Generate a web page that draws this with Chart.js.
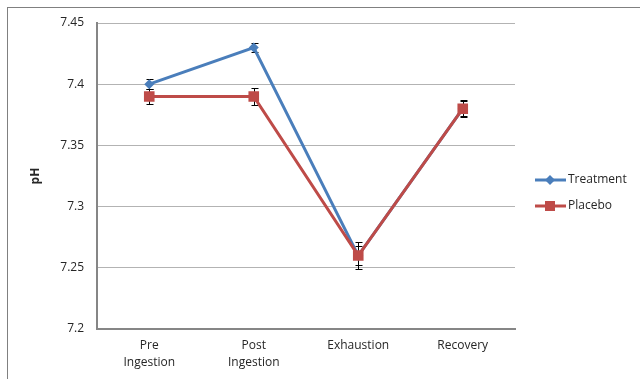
<!DOCTYPE html>
<html><head><meta charset="utf-8">
<script src="https://cdn.jsdelivr.net/npm/chart.js@4/dist/chart.umd.min.js"></script>
<style>html,body{margin:0;padding:0;background:#fff;}#wrap{width:640px;height:379px;position:relative;}</style>
</head><body><div id="wrap"><canvas id="c" width="640" height="379"></canvas></div>
<script>
const categories = [['Pre','Ingestion'], ['Post','Ingestion'], ['Exhaustion'], ['Recovery']];
const treatment = [7.40, 7.43, 7.26, 7.38];
const treatmentErr = [0.004, 0.004, 0.008, 0.006];
const placebo = [7.39, 7.39, 7.26, 7.38];
const placeboErr = [0.006, 0.007, 0.011, 0.007];
const yTicks = [7.2, 7.25, 7.3, 7.35, 7.4, 7.45];
const seriesNames = ['Treatment', 'Placebo'];

const FONT = "'Open Sans', sans-serif";
const BLUE = '#4a7ebb', RED = '#be4b48';
const TXT = '#262626';

const errPlugin = {
  id: 'errbars',
  beforeDatasetsDraw(chart) {
    const ctx = chart.ctx, ys = chart.scales.y;
    const errs = [treatmentErr, placeboErr];
    ctx.save();
    ctx.strokeStyle = '#000'; ctx.lineWidth = 1;
    chart.data.datasets.forEach((ds, di) => {
      const meta = chart.getDatasetMeta(di);
      meta.data.forEach((pt, i) => {
        const v = ds.data[i], e = errs[di][i];
        const y1 = Math.round(ys.getPixelForValue(v + e)) + 0.5;
        const y2 = Math.round(ys.getPixelForValue(v - e)) + 0.5;
        const x = Math.round(pt.x) + 0.5;
        ctx.beginPath();
        ctx.moveTo(x, y1); ctx.lineTo(x, y2);
        ctx.moveTo(x - 3, y1); ctx.lineTo(x + 4, y1);
        ctx.moveTo(x - 3, y2); ctx.lineTo(x + 4, y2);
        ctx.stroke();
      });
    });
    ctx.restore();
  },
  afterDraw(chart) {
    const ctx = chart.ctx;
    ctx.save();
    ctx.strokeStyle = '#808080'; ctx.lineWidth = 1;
    ctx.strokeRect(7.5, 7.5, 700, 400);
    const items = [
      {name: seriesNames[0], color: BLUE, y: 180, style: 'diamond'},
      {name: seriesNames[1], color: RED, y: 206, style: 'square'}
    ];
    ctx.font = '12px ' + FONT;
    ctx.textBaseline = 'middle';
    items.forEach(it => {
      ctx.strokeStyle = it.color; ctx.lineWidth = 3;
      ctx.beginPath(); ctx.moveTo(535, it.y); ctx.lineTo(566, it.y); ctx.stroke();
      ctx.fillStyle = it.color;
      ctx.beginPath();
      if (it.style === 'diamond') {
        ctx.moveTo(550, it.y - 5); ctx.lineTo(555, it.y); ctx.lineTo(550, it.y + 5); ctx.lineTo(545, it.y); ctx.closePath();
      } else {
        ctx.rect(545, it.y - 5, 10, 10);
      }
      ctx.fill();
      ctx.fillStyle = TXT;
      ctx.fillText(it.name, 568, it.y);
    });
    ctx.restore();
  }
};

new Chart(document.getElementById('c'), {
  type: 'line',
  data: {
    labels: categories,
    datasets: [
      {label: seriesNames[0], data: treatment, borderColor: BLUE, backgroundColor: BLUE, borderWidth: 3,
       pointStyle: 'rectRot', pointRadius: 5, pointHoverRadius: 5, pointBorderWidth: 0, order: 1, tension: 0},
      {label: seriesNames[1], data: placebo, borderColor: RED, backgroundColor: RED, borderWidth: 3,
       pointStyle: 'rect', pointRadius: 7.5, pointHoverRadius: 7.5, pointBorderWidth: 0, order: 0, tension: 0}
    ]
  },
  options: {
    responsive: false, animation: false,
    devicePixelRatio: 1,
    layout: {padding: {left: 0, right: 125, top: 23, bottom: 0}},
    plugins: {legend: {display: false}, tooltip: {enabled: false}},
    scales: {
      x: {
        offset: true,
        grid: {display: false, drawTicks: false},
        border: {color: '#868686', width: 2},
        ticks: {color: TXT, font: {family: FONT, size: 12, lineHeight: 1.42}, padding: 8, maxRotation: 0, autoSkip: false},
        afterFit(s) { s.height = 50; }
      },
      y: {
        min: 7.2, max: 7.45,
        afterBuildTicks(s) { s.ticks = yTicks.map(v => ({value: v})); },
        grid: {color: '#b3b3b3', lineWidth: 1, drawTicks: false},
        border: {color: '#868686', width: 2},
        ticks: {color: TXT, font: {family: FONT, size: 12}, padding: 13,
          callback: v => String(Number(v.toFixed(2)))},
        title: {display: true, text: 'pH', color: TXT, font: {family: FONT, size: 12, weight: 'bold'}, padding: {top: 28, bottom: 0}},
        afterFit(s) { s.width = 97; }
      }
    }
  },
  plugins: [errPlugin]
});
</script></body></html>
